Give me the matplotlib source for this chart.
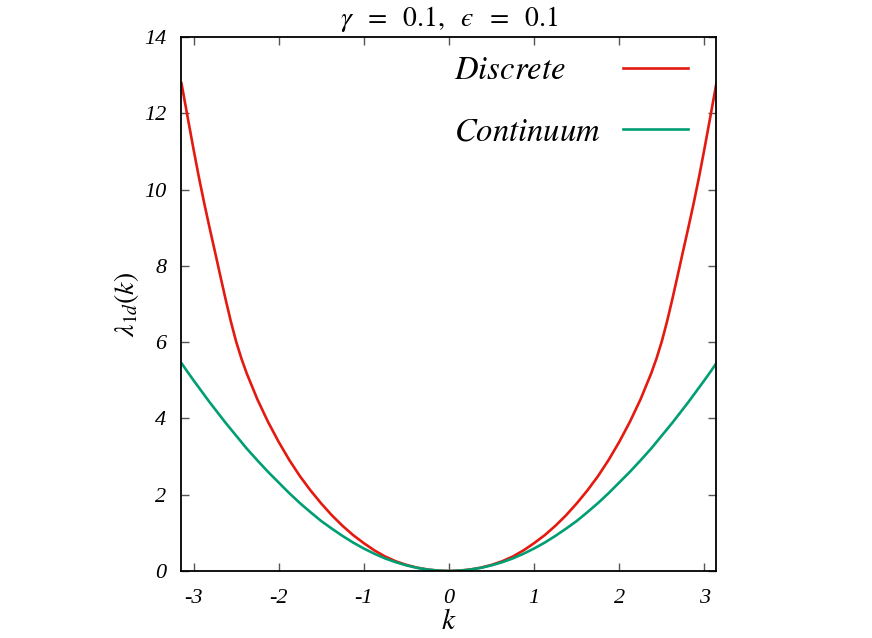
import matplotlib
matplotlib.use("Agg")
import matplotlib.pyplot as plt

# values (k >= 0 half; the curves are symmetric)
k_pos = [0.0, 0.125, 0.25, 0.375, 0.5, 0.625, 0.75, 0.875, 1.0, 1.125, 1.25,
         1.375, 1.5, 1.625, 1.75, 1.875, 2.0, 2.125, 2.25, 2.375, 2.4375,
         2.5, 2.5625, 2.625, 2.6875, 2.75, 2.8125, 2.875, 2.9375, 3.0, 3.07,
         3.1416]
discrete_pos = [0.0, 0.01, 0.04, 0.088, 0.16, 0.255, 0.38, 0.54, 0.73, 0.94, 1.185,
                1.46, 1.77, 2.11, 2.485, 2.91, 3.385, 3.91, 4.50, 5.18, 5.57,
                6.02, 6.55, 7.14, 7.76, 8.39, 9.01, 9.65, 10.33, 11.06, 11.91,
                12.79]
continuum_pos = [0.0, 0.009, 0.037, 0.083, 0.148, 0.231, 0.33, 0.452, 0.59, 0.745, 0.92,
                 1.11, 1.31, 1.54, 1.78, 2.04, 2.32, 2.60, 2.90, 3.21, 3.38,
                 3.55, 3.72, 3.89, 4.07, 4.25, 4.43, 4.62, 4.81, 5.00, 5.22,
                 5.45]

k_vals = [-k for k in k_pos[::-1]] + k_pos[1:]
discrete = discrete_pos[::-1] + discrete_pos[1:]
continuum = continuum_pos[::-1] + continuum_pos[1:]

x_ticks = [-3, -2, -1, 0, 1, 2, 3]
y_ticks = [0, 2, 4, 6, 8, 10, 12, 14]

plt.rcParams['mathtext.fontset'] = 'stix'
plt.rcParams['axes.unicode_minus'] = False

fig = plt.figure(figsize=(8.72, 6.38), dpi=100)
ax = fig.add_axes([0.2081, 0.105, 0.6135, 0.837])

ax.plot(k_vals, discrete, color='#e41a10', lw=1.9, label=r'$Discrete$')
ax.plot(k_vals, continuum, color='#009e73', lw=1.9, label=r'$Continuum$')

ax.set_xlim(-3.1416, 3.1416)
ax.set_ylim(0, 14)
ax.set_xticks(x_ticks)
ax.set_yticks(y_ticks)
ax.set_xticklabels([str(t) for t in x_ticks], family='Liberation Serif',
                   style='italic', fontsize=16)
ax.set_yticklabels([str(t) for t in y_ticks], family='Liberation Serif',
                   style='italic', fontsize=16)
ax.tick_params(direction='in', top=True, right=True, length=6, width=1,
               color='#555555')
ax.tick_params(axis='x', pad=13)
ax.tick_params(axis='y', pad=11)
for s in ax.spines.values():
    s.set_linewidth(1.3)

ax.set_title(r'$\gamma\;\ =\;\ 0.1,\;\ ϵ\;\ =\;\ 0.1$', fontsize=20, pad=8)
ax.set_xlabel(r'$k$', fontsize=21, labelpad=-1)
ax.set_ylabel(r'$\lambda_{1d}(k)$', fontsize=20, labelpad=2)

leg = ax.legend(loc='upper right', bbox_to_anchor=(0.947, 0.97), frameon=False,
                markerfirst=False, fontsize=23.5, handlelength=2.0,
                handletextpad=0.7, labelspacing=0.88, borderpad=0,
                borderaxespad=0)

# left-justify the legend texts (gnuplot style): widen the gap in shorter rows
fig.canvas.draw()
renderer = fig.canvas.get_renderer()
widths = [t.get_window_extent(renderer).width for t in leg.get_texts()]
rows = leg._legend_handle_box.get_children()[0].get_children()
for row, w in zip(rows, widths):
    row.sep += (max(widths) - w) * 72.0 / fig.dpi

fig.savefig('out.png', dpi=100)
